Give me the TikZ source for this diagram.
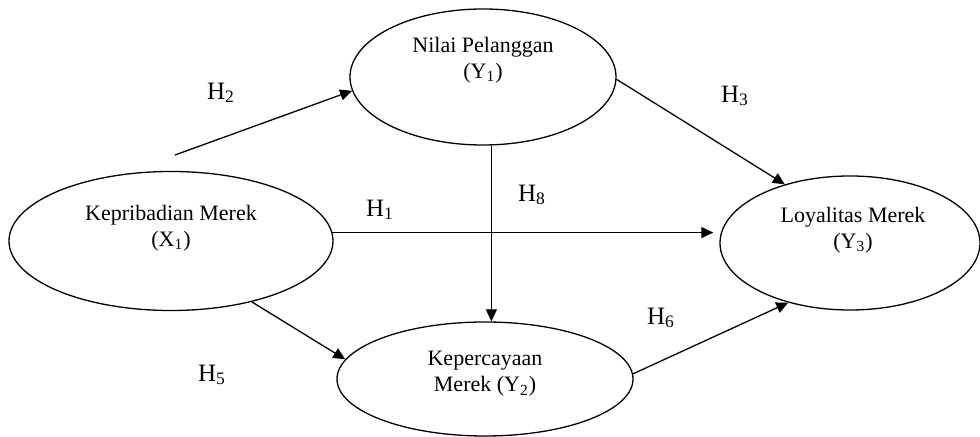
\documentclass[tikz,border=0pt]{standalone}
\usepackage{fontspec}
\setmainfont{Liberation Serif}
\usetikzlibrary{arrows.meta,shapes.geometric}

\tikzset{
	elips/.style={draw, ellipse, line width=0.65pt, inner sep=0pt},
	teks/.style={align=center, font=\fontsize{11}{13}\selectfont},
	hyp/.style={font=\fontsize{12.5}{14}\selectfont},
	panah/.style={-{Triangle[length=6pt,width=5.5pt]}, line width=0.65pt}
}

\begin{document}
\begin{tikzpicture}[x=0.5pt,y=-0.5pt]
	\useasboundingbox (0,0) rectangle (980,437);
	% variabel
	\node[elips, minimum width=133pt, minimum height=68pt] (nilai) at (483,77) {};
	\node[elips, minimum width=162pt, minimum height=69.5pt] (kepribadian) at (171,241) {};
	\node[elips, minimum width=130pt, minimum height=67pt] (loyalitas) at (850,243) {};
	\node[elips, minimum width=148pt, minimum height=57pt] (kepercayaan) at (485,379) {};
	\node[teks] (nilaiteks) at (483,60) {Nilai Pelanggan\\(Y\textsubscript{1})};
	\node[teks] (kepribadianteks) at (171,228) {Kepribadian Merek\\(X\textsubscript{1})};
	\node[teks] (loyalitasteks) at (853,230) {Loyalitas Merek\\(Y\textsubscript{3})};
	\node[teks] (kepercayaanteks) at (485,374) {Kepercayaan\\Merek (Y\textsubscript{2})};
	% hubungan
	\coordinate (h2start) at (175,155);
	\draw[panah] (h2start) -- (nilai.186.8);
	\draw[panah] (nilai.-1) -- (loyalitas.138.6);
	\draw[panah] (nilai.-83) -- (nilai.-83 |- kepercayaan.north);
	\draw[panah, shorten >=3pt] (kepribadian.3.6) -- (kepribadian.3.6 -| loyalitas.west);
	\draw[panah] (kepribadian.-37) -- (kepercayaan.172.6);
	\draw[panah] (kepercayaan.2) -- (loyalitas.224);
	% hipotesis
	\node[hyp] (h1) at (380,210) {H\textsubscript{1}};
	\node[hyp] (h2) at (221,93) {H\textsubscript{2}};
	\node[hyp] (h3) at (735,96) {H\textsubscript{3}};
	\node[hyp] (h5) at (212,375) {H\textsubscript{5}};
	\node[hyp] (h6) at (661,318) {H\textsubscript{6}};
	\node[hyp] (h8) at (532,195) {H\textsubscript{8}};
\end{tikzpicture}
\end{document}
